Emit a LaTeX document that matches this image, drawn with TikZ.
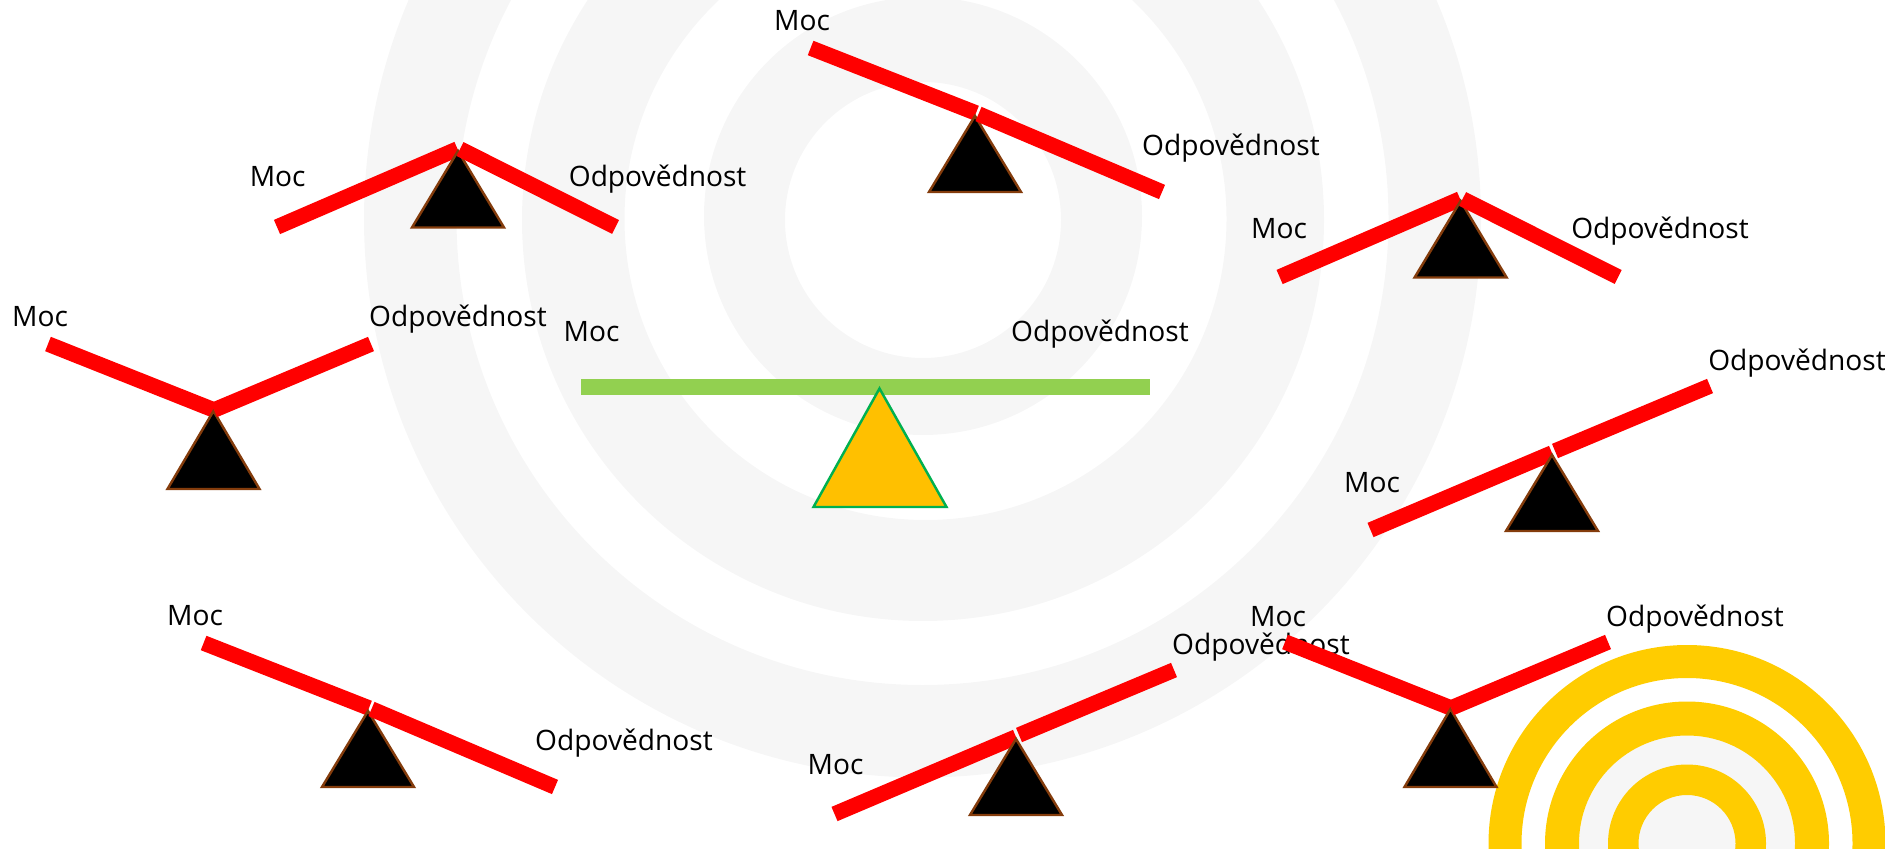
\documentclass[tikz,border=0pt]{standalone}
\usepackage{fontspec}
\setmainfont{Open Sans}
\definecolor{ringgrey}{HTML}{F6F6F6}
\definecolor{ringgold}{HTML}{FFCC00}
\definecolor{barred}{HTML}{FF0000}
\definecolor{bargreen}{HTML}{92D050}
\definecolor{basebrown}{HTML}{843C0C}
\definecolor{basegreen}{HTML}{00B050}
\definecolor{baseamber}{HTML}{FFC000}
\tikzset{
  lever/.style={draw=barred,line width=4.4pt},
  prop/.style={fill=black,draw=basebrown,line width=0.7pt},
  tag/.style={anchor=base,inner sep=0pt,font=\fontsize{8pt}{10pt}\selectfont}
}
\begin{document}
\begin{tikzpicture}
  [x=0.01cm,y=-0.01cm]
  \clip (0,0) rectangle (1885,849);
  % rings
  \fill[ringgrey,even odd rule] (922.5,219) circle (558.5) circle (466);
  \fill[ringgrey,even odd rule] (923,220) circle (401) (925.5,219) circle (301);
  \fill[ringgrey,even odd rule] (923,216) circle (219) (923,220) circle (138);
  \fill[ringgrey] (1687,843.5) circle (108);
  \foreach \outer/\inner in {198.5/165.5,142/108,79/48.5}
    \fill[ringgold,even odd rule] (1687,843.5) circle (\outer) circle (\inner);
  % labels
  \foreach \n/\mx/\my/\ox/\oy in {1/277.7/186.8/657.6/186.8,2/802/30.8/1231/155.8,
    3/1279/238.8/1660/238.8,4/40/326.8/458/326.8,5/1372/492.8/1797/370.8,6/195/625.8/624/750.8,
    7/835.5/774.8/1261/654.8,8/1278/626.8/1695/626.8,9/591.5/341.8/1100/341.8}{
    \node[tag] (moc\n) at (\mx,\my) {Moc};
    \node[tag] (odp\n) at (\ox,\oy) {Odpovědnost};
  }
  % seesaws
  \foreach \n/\ax/\ay/\bx/\by/\cx/\cy/\dx/\dy/\tx/\ty/\fy in {
    1/277/227/457.5/149/460/149/615.6/227/458/151/227.5,
    2/810.6/48/976/113/978.5/114/1162/192/975/116/192,
    3/1279.6/277/1460.1/199/1462.6/199/1618.2/277/1460.6/201/277.5,
    4/48/344/214/410/214/410/371/344/213.5/411/489,
    5/1370.5/530/1552/453/1555/451/1710/386/1552/455/531,
    6/203.6/643/369/708/371.5/709/555/787/368/711/787,
    7/834.5/814/1016/737/1019/735/1174/670/1016/739/815,
    8/1285/642/1451/708/1451/708/1608/642/1450.5/709/787}{
    \draw[lever] (\ax,\ay) -- (\bx,\by);
    \draw[prop] (\tx,\ty) -- ++(-46,\fy-\ty) -- ++(92,0) -- cycle;
    \draw[lever] (\cx,\cy) -- (\dx,\dy);
  }
  % balanced one
  \fill[bargreen] (580.6,379.5) rectangle (1150,395.5);
  \draw[fill=baseamber,draw=basegreen,line width=0.7pt] (879.5,388.5) -- (813.5,507) -- (946.5,507) -- cycle;
\end{tikzpicture}
\end{document}
